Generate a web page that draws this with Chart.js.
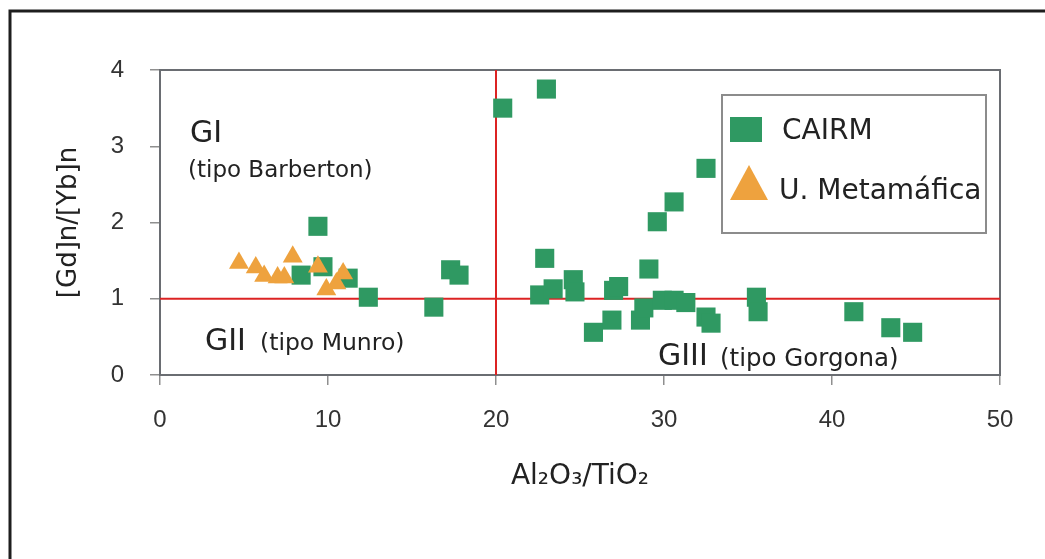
<!DOCTYPE html>
<html>
<head>
<meta charset="utf-8">
<script src="https://cdn.jsdelivr.net/npm/chart.js@4.4.1/dist/chart.umd.min.js"></script>
<style>
  html, body { margin: 0; padding: 0; background: #ffffff; }
  #wrap { width: 1045px; height: 559px; }
</style>
</head>
<body>
<div id="wrap"><canvas id="c" width="1045" height="559"></canvas></div>
<script>
// ---- Data ----
const cairmX = [20.4, 23.0, 9.4, 8.4, 9.7, 11.2, 12.4, 16.3, 17.3, 17.8,
                32.5, 30.6, 29.6, 22.9, 22.6, 23.4, 24.6, 24.7, 27.0, 27.3,
                29.1, 25.8, 26.9, 28.6, 28.8, 29.9, 30.6, 31.3, 32.5, 32.8,
                35.5, 35.6, 41.3, 43.5, 44.8];
const cairmY = [3.50, 3.75, 1.95, 1.31, 1.42, 1.27, 1.02, 0.89, 1.38, 1.31,
                2.71, 2.27, 2.01, 1.53, 1.05, 1.13, 1.25, 1.09, 1.11, 1.16,
                1.39, 0.56, 0.72, 0.72, 0.88, 0.98, 0.98, 0.95, 0.76, 0.68,
                1.02, 0.83, 0.83, 0.62, 0.56];
const metaX = [4.7, 5.7, 6.2, 7.0, 7.4, 7.9, 9.4, 9.9, 10.5, 10.9];
const metaY = [1.47, 1.41, 1.30, 1.28, 1.28, 1.55, 1.42, 1.12, 1.20, 1.33];

const seriesNames = ['CAIRM', 'U. Metamáfica'];
const xTicks = [0, 10, 20, 30, 40, 50];
const yTicks = [0, 1, 2, 3, 4];
const limitX = 20;   // vertical divider
const limitY = 1;    // horizontal divider
const regionLabels = [
  { big: 'GI', small: '(tipo Barberton)' },
  { big: 'GII', small: '(tipo Munro)' },
  { big: 'GIII', small: '(tipo Gorgona)' }
];
const xTitle = 'Al₂O₃/TiO₂';
const yTitle = '[Gd]n/[Yb]n';

// ---- Styles ----
const GREEN = '#2f9962';
const ORANGE = '#eea23e';
const RED = '#dc2323';
const TEXT = '#222222';
const LABEL_FONT = '"DejaVu Sans", sans-serif';

const toPts = (xs, ys) => xs.map((x, i) => ({ x: x, y: ys[i] }));

const decorPlugin = {
  id: 'decor',
  beforeDraw(chart) {
    const ctx = chart.ctx;
    ctx.save();
    ctx.strokeStyle = '#1e1e1e';
    ctx.lineWidth = 3;
    ctx.beginPath();
    ctx.moveTo(10, 559);
    ctx.lineTo(10, 11);
    ctx.lineTo(1045, 11);
    ctx.stroke();
    ctx.restore();
  },
  beforeDatasetsDraw(chart) {
    const { ctx, chartArea: a } = chart;
    ctx.save();
    ctx.strokeStyle = '#6a6d72';
    ctx.lineWidth = 2;
    ctx.strokeRect(a.left, a.top, a.right - a.left, a.bottom - a.top);
    ctx.restore();
  },
  afterDraw(chart) {
    const ctx = chart.ctx;
    ctx.save();
    ctx.fillStyle = TEXT;
    ctx.textBaseline = 'alphabetic';
    ctx.textAlign = 'left';
    // region labels
    const pos = [
      { bx: 190, by: 142, sx: 188, sy: 177, sz: 23 },
      { bx: 205, by: 350, sx: 260, sy: 350, sz: 23.5 },
      { bx: 658, by: 365, sx: 720, sy: 366, sz: 24.5 }
    ];
    regionLabels.forEach((r, i) => {
      const p = pos[i];
      ctx.font = '30px ' + LABEL_FONT;
      ctx.fillText(r.big, p.bx, p.by);
      ctx.font = p.sz + 'px ' + LABEL_FONT;
      ctx.fillText(r.small, p.sx, p.sy);
    });
    // legend
    ctx.fillStyle = '#ffffff';
    ctx.fillRect(722, 95, 264, 138);
    ctx.strokeStyle = '#8c8c8c';
    ctx.lineWidth = 2;
    ctx.strokeRect(722, 95, 264, 138);
    ctx.fillStyle = GREEN;
    ctx.fillRect(730, 117, 32, 25);
    ctx.fillStyle = ORANGE;
    ctx.beginPath();
    ctx.moveTo(730, 200);
    ctx.lineTo(768, 200);
    ctx.lineTo(749, 165);
    ctx.closePath();
    ctx.fill();
    ctx.fillStyle = TEXT;
    ctx.font = '28px ' + LABEL_FONT;
    ctx.fillText(seriesNames[0], 782, 139);
    ctx.fillText(seriesNames[1], 779, 199);
    ctx.restore();
  }
};

new Chart(document.getElementById('c'), {
  type: 'scatter',
  data: {
    datasets: [
      {
        label: seriesNames[1],
        data: toPts(metaX, metaY),
        pointStyle: 'triangle',
        pointRadius: 11.5,
        pointHoverRadius: 11.5,
        backgroundColor: ORANGE,
        borderWidth: 0
      },
      {
        label: seriesNames[0],
        data: toPts(cairmX, cairmY),
        pointStyle: 'rect',
        pointRadius: 13.5,
        pointHoverRadius: 13.5,
        backgroundColor: GREEN,
        borderWidth: 0
      },
      {
        type: 'line',
        label: 'limitX',
        data: [{ x: limitX, y: yTicks[0] }, { x: limitX, y: yTicks[yTicks.length - 1] }],
        borderColor: RED,
        borderWidth: 2,
        pointRadius: 0,
        showLine: true,
        fill: false
      },
      {
        type: 'line',
        label: 'limitY',
        data: [{ x: xTicks[0], y: limitY }, { x: xTicks[xTicks.length - 1], y: limitY }],
        borderColor: RED,
        borderWidth: 2,
        pointRadius: 0,
        showLine: true,
        fill: false
      }
    ]
  },
  options: {
    responsive: false,
    animation: false,
    events: [],
    layout: { padding: { top: 70, right: 45, bottom: 0, left: 0 } },
    plugins: {
      legend: { display: false },
      tooltip: { enabled: false },
      title: { display: false }
    },
    scales: {
      x: {
        type: 'linear',
        min: xTicks[0],
        max: xTicks[xTicks.length - 1],
        afterBuildTicks(scale) { scale.ticks = xTicks.map(v => ({ value: v })); },
        afterFit(scale) { scale.height = 184; },
        border: { display: false },
        grid: { drawOnChartArea: false, drawTicks: true, tickLength: 10, color: '#8f8f8f', lineWidth: 1.5 },
        ticks: {
          padding: 21,
          color: '#333333',
          font: { family: '"Liberation Sans Narrow", "Liberation Sans", sans-serif', size: 24 }
        },
        title: {
          display: true,
          text: xTitle,
          color: TEXT,
          font: { family: LABEL_FONT, size: 28 },
          padding: { top: 0, bottom: 65 }
        }
      },
      y: {
        type: 'linear',
        min: yTicks[0],
        max: yTicks[yTicks.length - 1],
        afterBuildTicks(scale) { scale.ticks = yTicks.map(v => ({ value: v })); },
        afterFit(scale) { scale.width = 160; },
        border: { display: false },
        grid: { drawOnChartArea: false, drawTicks: true, tickLength: 10, color: '#8f8f8f', lineWidth: 1.5 },
        ticks: {
          padding: 26,
          color: '#333333',
          font: { family: '"Liberation Sans Narrow", "Liberation Sans", sans-serif', size: 24 }
        },
        title: {
          display: true,
          text: yTitle,
          color: TEXT,
          font: { family: LABEL_FONT, size: 26 },
          padding: { top: 54, bottom: 0 }
        }
      }
    }
  },
  plugins: [decorPlugin]
});
</script>
</body>
</html>
